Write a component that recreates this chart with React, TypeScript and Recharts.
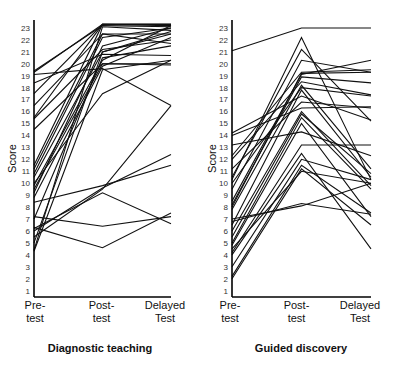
import React from "react";
import { LineChart, Line, XAxis, YAxis } from "recharts";

const categories = ["Pre-test", "Post-test", "Delayed Test"];
const tickLines = [["Pre-", "test"], ["Post-", "test"], ["Delayed", "Test"]];
const yTicks = [1, 2, 3, 4, 5, 6, 7, 8, 9, 10, 11, 12, 13, 14, 15, 16, 17, 18, 19, 20, 21, 22, 23];

// Diagnostic teaching (one entry per student)
const diagPre = [19.3, 19.4, 19.1, 18.4, 17.5, 16.5, 15.5, 15.4, 14.5, 11.5, 11.2, 10.5, 10.0, 9.8, 9.5, 9.2, 8.8, 8.4, 5.5, 6.0, 7.2, 6.3, 6.2, 4.4, 4.3, 7.0, 5.0, 10.8];
const diagPost = [23.3, 23.2, 19.6, 20.8, 23.3, 22.5, 23.3, 21.2, 20.0, 23.3, 22.5, 21.0, 17.5, 20.3, 20.0, 21.5, 19.8, 9.8, 9.5, 9.6, 6.4, 4.6, 9.2, 23.1, 19.5, 20.5, 21.0, 22.2];
const diagDelayed = [23.3, 23.1, 16.5, 20.7, 23.2, 22.5, 23.3, 22.0, 19.9, 23.3, 21.7, 22.7, 20.3, 23.2, 20.0, 23.0, 22.2, 11.5, 16.5, 12.4, 7.2, 7.5, 6.6, 22.8, 20.3, 21.5, 22.5, 23.0];

// Guided discovery (one entry per student)
const guidedPre = [21.1, 14.2, 14.0, 13.2, 12.3, 12.0, 11.2, 10.3, 10.5, 9.5, 8.5, 8.2, 7.8, 7.0, 6.8, 6.5, 6.0, 5.5, 5.0, 4.8, 4.2, 4.0, 3.0, 2.2, 2.0, 4.5, 8.0, 10.0];
const guidedPost = [23.0, 17.3, 16.3, 14.3, 19.3, 18.5, 16.8, 22.2, 21.2, 20.3, 19.1, 18.9, 18.2, 8.1, 8.3, 17.8, 16.0, 15.8, 15.5, 15.0, 13.2, 12.5, 12.0, 11.5, 11.2, 11.0, 19.2, 18.0];
const guidedDelayed = [23.0, 15.3, 16.4, 12.3, 19.5, 17.4, 16.3, 10.3, 15.2, 19.3, 20.3, 18.4, 11.2, 10.0, 7.4, 10.5, 9.8, 10.8, 9.5, 7.2, 13.2, 4.5, 10.3, 7.5, 6.5, 10.0, 19.3, 17.3];

const FONT = "'Liberation Sans', Arial, Helvetica, sans-serif";

function buildRows(pre: number[], post: number[], delayed: number[]) {
  const series = [pre, post, delayed];
  return categories.map((cat, i) => {
    const row: Record<string, any> = { cat };
    series[i].forEach((v, j) => {
      row["s" + j] = v;
    });
    return row;
  });
}

function makeTick(shifts: number[]) {
  return (props: any) => {
    const { x, y, index } = props;
    const lines = tickLines[index] || [String(props.payload.value)];
    const cx = x + (shifts[index] || 0);
    return (
      <g>
        <text x={cx} y={y + 12} textAnchor="middle" fontSize={11} fontFamily={FONT} fill="#111">
          {lines[0]}
        </text>
        <text x={cx} y={y + 25} textAnchor="middle" fontSize={11} fontFamily={FONT} fill="#111">
          {lines[1]}
        </text>
      </g>
    );
  };
}

function Panel(props: {
  pre: number[];
  post: number[];
  delayed: number[];
  yWidth: number;
  shifts: number[];
}) {
  const { pre, post, delayed, yWidth, shifts } = props;
  const data = buildRows(pre, post, delayed);
  return (
    <LineChart width={200} height={372} data={data} margin={{ top: 20, right: 29, bottom: 45, left: 0 }}>
      <XAxis
        dataKey="cat"
        height={30}
        tickLine={false}
        tickSize={0}
        tickMargin={0}
        axisLine={{ stroke: "#000", strokeWidth: 1.6 }}
        tick={makeTick(shifts)}
        interval={0}
      />
      <YAxis
        width={yWidth}
        type="number"
        domain={[0.47, 23.67]}
        ticks={yTicks}
        interval={0}
        tickLine={false}
        tickSize={2}
        tickMargin={2}
        axisLine={{ stroke: "#000", strokeWidth: 1.6 }}
        tick={{ fontSize: 8, fontFamily: FONT, fill: "#333" }}
        label={{
          value: "Score",
          angle: -90,
          position: "insideLeft",
          offset: 12,
          style: { textAnchor: "middle", fontSize: 11, fontFamily: FONT, fill: "#111" },
        }}
      />
      {pre.map((_, j) => (
        <Line
          key={j}
          type="linear"
          dataKey={"s" + j}
          stroke="#111"
          strokeWidth={1.1}
          dot={false}
          activeDot={false}
          isAnimationActive={false}
        />
      ))}
    </LineChart>
  );
}

export default function App() {
  return (
    <div style={{ position: "absolute", left: 0, top: 0, width: 400, height: 372, background: "#fff" }}>
      <div style={{ position: "absolute", left: 0, top: 0 }}>
        <Panel pre={diagPre} post={diagPost} delayed={diagDelayed} yWidth={34} shifts={[1, -1, -6]} />
      </div>
      <div style={{ position: "absolute", left: 200, top: 0 }}>
        <Panel pre={guidedPre} post={guidedPost} delayed={guidedDelayed} yWidth={32} shifts={[-2, -5, -11]} />
      </div>
      <div
        style={{
          position: "absolute",
          left: 0,
          width: 200,
          top: 342,
          textAlign: "center",
          fontFamily: FONT,
          fontWeight: "bold",
          fontSize: 11,
          color: "#111",
        }}
      >
        Diagnostic teaching
      </div>
      <div
        style={{
          position: "absolute",
          left: 201,
          width: 200,
          top: 342,
          textAlign: "center",
          fontFamily: FONT,
          fontWeight: "bold",
          fontSize: 11,
          color: "#111",
        }}
      >
        Guided discovery
      </div>
    </div>
  );
}
